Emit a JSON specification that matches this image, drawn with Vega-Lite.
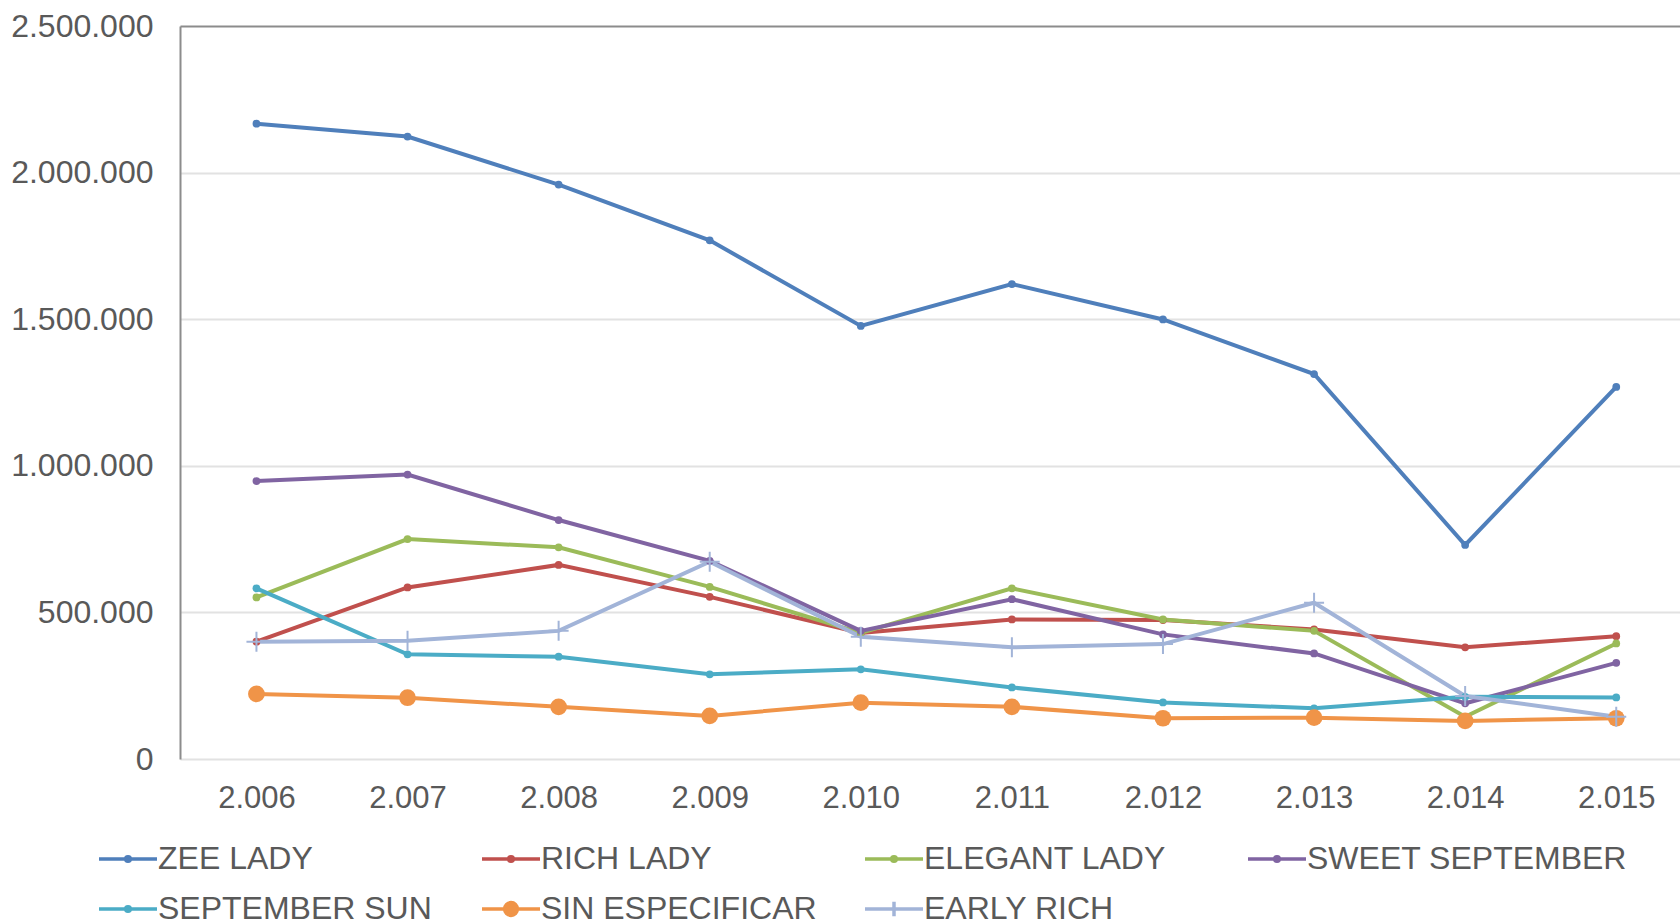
{
  "$schema": "https://vega.github.io/schema/vega-lite/v6.json",
  "autosize": {"type": "none"},
  "padding": {"left": 180, "top": 26, "right": 0, "bottom": 162},
  "width": 1500,
  "height": 733,
  "config": {
    "view": {"stroke": null},
    "font": "Liberation Sans",
    "locale": {"number": {"decimal": ",", "thousands": ".", "grouping": [3], "currency": ["", " €"]}}
  },
  "data": {"values": [
    {"s": "ZEE LADY", "y": 2006, "v": 2167000}, {"s": "ZEE LADY", "y": 2007, "v": 2123000}, {"s": "ZEE LADY", "y": 2008, "v": 1959000}, {"s": "ZEE LADY", "y": 2009, "v": 1769000}, {"s": "ZEE LADY", "y": 2010, "v": 1477000}, {"s": "ZEE LADY", "y": 2011, "v": 1620000}, {"s": "ZEE LADY", "y": 2012, "v": 1499000}, {"s": "ZEE LADY", "y": 2013, "v": 1313000}, {"s": "ZEE LADY", "y": 2014, "v": 730000}, {"s": "ZEE LADY", "y": 2015, "v": 1269000},
    {"s": "RICH LADY", "y": 2006, "v": 400000}, {"s": "RICH LADY", "y": 2007, "v": 585000}, {"s": "RICH LADY", "y": 2008, "v": 662000}, {"s": "RICH LADY", "y": 2009, "v": 553000}, {"s": "RICH LADY", "y": 2010, "v": 430000}, {"s": "RICH LADY", "y": 2011, "v": 476000}, {"s": "RICH LADY", "y": 2012, "v": 474000}, {"s": "RICH LADY", "y": 2013, "v": 442000}, {"s": "RICH LADY", "y": 2014, "v": 381000}, {"s": "RICH LADY", "y": 2015, "v": 419000},
    {"s": "ELEGANT LADY", "y": 2006, "v": 551000}, {"s": "ELEGANT LADY", "y": 2007, "v": 750000}, {"s": "ELEGANT LADY", "y": 2008, "v": 722000}, {"s": "ELEGANT LADY", "y": 2009, "v": 587000}, {"s": "ELEGANT LADY", "y": 2010, "v": 430000}, {"s": "ELEGANT LADY", "y": 2011, "v": 582000}, {"s": "ELEGANT LADY", "y": 2012, "v": 476000}, {"s": "ELEGANT LADY", "y": 2013, "v": 437000}, {"s": "ELEGANT LADY", "y": 2014, "v": 144000}, {"s": "ELEGANT LADY", "y": 2015, "v": 394000},
    {"s": "SWEET SEPTEMBER", "y": 2006, "v": 948000}, {"s": "SWEET SEPTEMBER", "y": 2007, "v": 970000}, {"s": "SWEET SEPTEMBER", "y": 2008, "v": 815000}, {"s": "SWEET SEPTEMBER", "y": 2009, "v": 676000}, {"s": "SWEET SEPTEMBER", "y": 2010, "v": 437000}, {"s": "SWEET SEPTEMBER", "y": 2011, "v": 545000}, {"s": "SWEET SEPTEMBER", "y": 2012, "v": 425000}, {"s": "SWEET SEPTEMBER", "y": 2013, "v": 360000}, {"s": "SWEET SEPTEMBER", "y": 2014, "v": 190000}, {"s": "SWEET SEPTEMBER", "y": 2015, "v": 328000},
    {"s": "SEPTEMBER SUN", "y": 2006, "v": 582000}, {"s": "SEPTEMBER SUN", "y": 2007, "v": 357000}, {"s": "SEPTEMBER SUN", "y": 2008, "v": 349000}, {"s": "SEPTEMBER SUN", "y": 2009, "v": 289000}, {"s": "SEPTEMBER SUN", "y": 2010, "v": 306000}, {"s": "SEPTEMBER SUN", "y": 2011, "v": 244000}, {"s": "SEPTEMBER SUN", "y": 2012, "v": 193000}, {"s": "SEPTEMBER SUN", "y": 2013, "v": 173000}, {"s": "SEPTEMBER SUN", "y": 2014, "v": 212000}, {"s": "SEPTEMBER SUN", "y": 2015, "v": 210000},
    {"s": "SIN ESPECIFICAR", "y": 2006, "v": 222000}, {"s": "SIN ESPECIFICAR", "y": 2007, "v": 209000}, {"s": "SIN ESPECIFICAR", "y": 2008, "v": 178000}, {"s": "SIN ESPECIFICAR", "y": 2009, "v": 147000}, {"s": "SIN ESPECIFICAR", "y": 2010, "v": 192000}, {"s": "SIN ESPECIFICAR", "y": 2011, "v": 178000}, {"s": "SIN ESPECIFICAR", "y": 2012, "v": 139000}, {"s": "SIN ESPECIFICAR", "y": 2013, "v": 141000}, {"s": "SIN ESPECIFICAR", "y": 2014, "v": 130000}, {"s": "SIN ESPECIFICAR", "y": 2015, "v": 139000},
    {"s": "EARLY RICH", "y": 2006, "v": 400000}, {"s": "EARLY RICH", "y": 2007, "v": 403000}, {"s": "EARLY RICH", "y": 2008, "v": 437000}, {"s": "EARLY RICH", "y": 2009, "v": 673000}, {"s": "EARLY RICH", "y": 2010, "v": 417000}, {"s": "EARLY RICH", "y": 2011, "v": 381000}, {"s": "EARLY RICH", "y": 2012, "v": 392000}, {"s": "EARLY RICH", "y": 2013, "v": 533000}, {"s": "EARLY RICH", "y": 2014, "v": 215000}, {"s": "EARLY RICH", "y": 2015, "v": 144000}
  ]},
  "encoding": {
    "x": {
      "field": "y", "type": "quantitative",
      "scale": {"domain": [2005.494, 2015.422], "nice": false, "zero": false},
      "axis": {
        "title": null, "values": [2006, 2007, 2008, 2009, 2010, 2011, 2012, 2013, 2014, 2015],
        "format": ",", "grid": false, "domain": false, "ticks": false,
        "labelFontSize": 31, "labelColor": "#595959", "labelPadding": 24, "labelFont": "Liberation Sans"
      }
    },
    "y": {
      "field": "v", "type": "quantitative",
      "scale": {"domain": [0, 2500000], "nice": false},
      "axis": {
        "title": null, "values": [0, 500000, 1000000, 1500000, 2000000, 2500000],
        "format": ",.0f", "ticks": false, "domainColor": "#8c8c8c", "domainWidth": 2,
        "gridColor": {"condition": {"test": "datum.value == 2500000", "value": "#8c8c8c"}, "value": "#e2e2e2"},
        "gridWidth": 2,
        "labelFontSize": 32, "labelColor": "#595959", "labelPadding": 27, "labelFont": "Liberation Sans"
      }
    },
    "color": {
      "field": "s", "type": "nominal",
      "scale": {
        "domain": ["ZEE LADY", "RICH LADY", "ELEGANT LADY", "SWEET SEPTEMBER", "SEPTEMBER SUN", "SIN ESPECIFICAR", "EARLY RICH"],
        "range": ["#4F7FBB", "#C0504D", "#9BBB59", "#8064A2", "#4BACC6", "#F09448", "#A2B4D8"]
      }
    }
  },
  "layer": [
    {
      "mark": {"type": "line", "strokeWidth": 4},
      "encoding": {
        "color": {
          "field": "s", "type": "nominal",
          "legend": {
            "title": null, "orient": "none", "legendX": -83, "legendY": 811,
            "direction": "horizontal", "columns": 4, "gridAlign": "all",
            "columnPadding": 1, "rowPadding": 6, "clipHeight": 44,
            "symbolSize": 3364, "symbolStrokeWidth": 3.5, "symbolType": "stroke",
            "labelFontSize": 32, "labelFont": "Liberation Sans", "labelColor": "#595959",
            "labelOffset": -1, "labelLimit": 0,
            "encode": {
              "symbols": {
                "update": {
                  "shape": {"signal": "datum.value == 'SIN ESPECIFICAR' ? 'M-1,0H1M0.22,0A0.22,0.22 0 1 1 -0.22,0A0.22,0.22 0 1 1 0.22,0Z' : datum.value == 'EARLY RICH' ? 'M-1,0H1M0,-0.25V0.25' : 'M-1,0H1M0.08,0A0.08,0.08 0 1 1 -0.08,0A0.08,0.08 0 1 1 0.08,0Z'"},
                  "fill": {"scale": "color", "field": "value"},
                  "stroke": {"scale": "color", "field": "value"},
                  "strokeWidth": {"value": 3.5},
                  "opacity": {"value": 1}
                }
              }
            }
          }
        }
      }
    },
    {
      "transform": [{"filter": "datum.s != 'SIN ESPECIFICAR' && datum.s != 'EARLY RICH'"}],
      "mark": {"type": "point", "filled": true, "size": 60, "opacity": 1, "shape": "circle"}
    },
    {
      "transform": [{"filter": "datum.s == 'SIN ESPECIFICAR'"}],
      "mark": {"type": "point", "filled": true, "size": 280, "opacity": 1, "shape": "circle"}
    },
    {
      "transform": [{"filter": "datum.s == 'EARLY RICH'"}],
      "mark": {"type": "point", "filled": false, "size": 400, "opacity": 1, "strokeWidth": 2, "shape": "M-1,0H1M0,-1V1"}
    }
  ]
}
